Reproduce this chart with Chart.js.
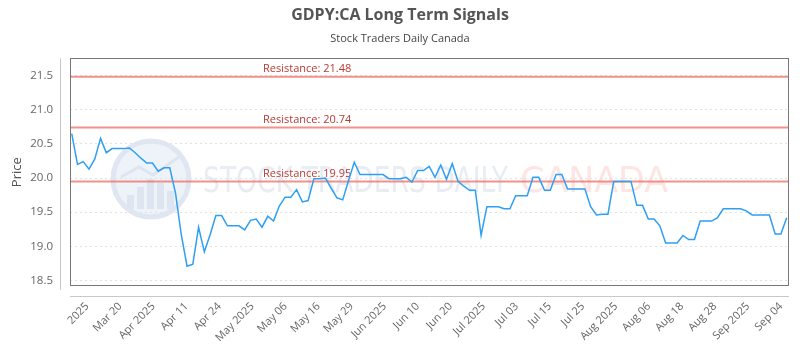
<!DOCTYPE html>
<html><head><meta charset="utf-8">
<script src="https://cdn.jsdelivr.net/npm/chart.js@4"></script>
<style>html,body{margin:0;padding:0;background:#fff}</style>
</head><body>
<canvas id="c" width="800" height="350"></canvas>
<script>
const titleText = 'GDPY:CA Long Term Signals';
const subtitleText = 'Stock Traders Daily Canada';
const yAxisTitle = 'Price';

const prices = [
  20.65, 20.20, 20.24, 20.13, 20.28, 20.58, 20.37, 20.43, 20.43, 20.43, 20.44, 20.37, 20.29, 20.22, 20.22, 20.10, 20.15, 20.15, 19.78, 19.17, 18.71, 18.74, 19.28, 18.92, 19.17, 19.45,
  19.45, 19.30, 19.30, 19.30, 19.24, 19.38, 19.40, 19.28, 19.44, 19.37, 19.59, 19.72, 19.72, 19.83, 19.65, 19.67, 19.99, 19.99, 20.00, 19.85, 19.71, 19.68, 19.96, 20.23, 20.05,
  20.05, 20.05, 20.05, 20.05, 19.99, 19.99, 19.99, 20.01, 19.94, 20.11, 20.11, 20.17, 20.01, 20.19, 19.98, 20.21, 19.95, 19.88, 19.82, 19.82, 19.16, 19.58, 19.58, 19.58, 19.55,
  19.55, 19.74, 19.74, 19.74, 20.01, 20.01, 19.82, 19.82, 20.05, 20.05, 19.84, 19.84, 19.84, 19.84, 19.58, 19.46, 19.47, 19.47, 19.95, 19.95, 19.95, 19.95, 19.60, 19.60, 19.40, 19.40,
  19.30, 19.05, 19.05, 19.05, 19.16, 19.10, 19.10, 19.37, 19.37, 19.37, 19.42, 19.55, 19.55, 19.55, 19.55, 19.52, 19.46, 19.46, 19.46, 19.46, 19.18, 19.18, 19.42
];
const resistances = [21.48, 20.74, 19.95];
const xTickLabels = ['2025','Mar 20','Apr 2025','Apr 11','Apr 24','May 2025','May 06','May 16','May 29','Jun 2025','Jun 10','Jun 20','Jul 2025','Jul 03','Jul 15','Jul 25','Aug 2025','Aug 06','Aug 18','Aug 28','Sep 2025','Sep 04'];
const yTicks = [18.5, 19.0, 19.5, 20.0, 20.5, 21.0, 21.5];

// tick placement along the trading-day index
const X_TICK_START = 2.7;
const X_TICK_STEP = 5.73;

const FONT = '"Open Sans", "DejaVu Sans", sans-serif';

const watermark = {
  id: 'watermark',
  beforeDraw(chart) {
    const {ctx} = chart;
    ctx.save();
    const cx = 151, cy = 179, r = 38;
    ctx.beginPath(); ctx.arc(cx, cy, r, 0, Math.PI * 2);
    ctx.fillStyle = 'rgba(236,241,248,0.9)'; ctx.fill();
    ctx.lineWidth = 5; ctx.strokeStyle = 'rgba(222,230,241,0.95)'; ctx.stroke();
    ctx.fillStyle = 'rgba(218,227,239,0.9)';
    const bars = [[-24, 14], [-14, 22], [-4, 30], [6, 26], [16, 18]];
    bars.forEach(([dx, h]) => ctx.fillRect(cx + dx, cy + 30 - h, 7, h));
    ctx.beginPath();
    ctx.moveTo(cx - 30, cy - 2); ctx.lineTo(cx - 12, cy - 12); ctx.lineTo(cx + 2, cy - 4); ctx.lineTo(cx + 28, cy - 22);
    ctx.lineWidth = 3; ctx.strokeStyle = 'rgba(218,227,239,0.9)'; ctx.stroke();

    ctx.textBaseline = 'alphabetic';
    ctx.font = '36px "DejaVu Sans", sans-serif';
    const drawFit = (txt, x0, x1, color) => {
      const w = ctx.measureText(txt).width;
      ctx.save();
      ctx.translate(x0, 192);
      ctx.scale((x1 - x0) / w, 1);
      ctx.fillStyle = color;
      ctx.fillText(txt, 0, 0);
      ctx.restore();
    };
    drawFit('STOCK TRADERS DAILY', 203, 508, 'rgba(226,232,241,0.8)');
    drawFit('CANADA', 520, 668, 'rgba(250,212,209,0.6)');
    ctx.restore();
  }
};

const frame = {
  id: 'frame',
  afterDraw(chart) {
    const {ctx, chartArea: a} = chart;
    ctx.save();
    ctx.lineWidth = 1;
    ctx.strokeStyle = '#c8c8c8';
    ctx.beginPath();
    ctx.moveTo(a.left - 9.5, a.top); ctx.lineTo(a.left - 9.5, a.bottom + 4);
    ctx.moveTo(a.left, a.bottom + 10.5); ctx.lineTo(a.right, a.bottom + 10.5);
    ctx.stroke();
    ctx.strokeStyle = '#777';
    ctx.strokeRect(Math.round(a.left) + 0.5, Math.round(a.top) + 0.5, Math.round(a.right - a.left) - 1, Math.round(a.bottom - a.top) - 1);
    ctx.restore();
  }
};

const resistancePlugin = {
  id: 'resistance',
  beforeDatasetsDraw(chart) {
    const {ctx, chartArea: a, scales} = chart;
    ctx.save();
    resistances.forEach(v => {
      const y = scales.y.getPixelForValue(v);
      ctx.beginPath();
      ctx.moveTo(a.left, y); ctx.lineTo(a.right, y);
      ctx.lineWidth = 2; ctx.strokeStyle = 'rgba(236,110,100,0.75)';
      ctx.stroke();
      ctx.font = '11px ' + FONT;
      ctx.fillStyle = '#b83a32';
      ctx.textBaseline = 'bottom';
      ctx.textAlign = 'left';
      ctx.fillText('Resistance: ' + v.toFixed(2), 263, y - 2);
    });
    ctx.restore();
  }
};

new Chart(document.getElementById('c'), {
  type: 'line',
  data: {
    datasets: [{
      data: prices.map((v, i) => ({x: i, y: v})),
      borderColor: '#2f9ff2',
      borderWidth: 1.5,
      pointRadius: 0,
      tension: 0,
      fill: false
    }]
  },
  options: {
    responsive: false,
    animation: false,
    layout: {padding: 0},
    plugins: {
      legend: {display: false},
      tooltip: {enabled: false},
      title: {display: true, text: titleText, color: '#555', font: {family: FONT, size: 16, weight: 'bold'}, padding: {top: 6, bottom: 4}},
      subtitle: {display: true, text: subtitleText, color: '#444', font: {family: FONT, size: 11}, padding: {top: 3, bottom: 13}}
    },
    scales: {
      x: {
        type: 'linear',
        min: -0.3,
        max: 124.4,
        afterBuildTicks: s => { s.ticks = xTickLabels.map((_, i) => ({value: X_TICK_START + i * X_TICK_STEP})); },
        afterFit: s => { s.height = 64; s.paddingLeft = 0; s.paddingRight = 11; },
        ticks: {autoSkip: false, maxRotation: 45, minRotation: 45, padding: 4, color: '#666', font: {family: FONT, size: 11},
          callback: (v, i) => xTickLabels[i]},
        grid: {display: false, drawTicks: true, tickLength: 10},
        border: {display: false}
      },
      y: {
        type: 'linear',
        min: 18.42,
        max: 21.75,
        afterBuildTicks: s => { s.ticks = yTicks.map(v => ({value: v})); },
        afterFit: s => { s.width = 70; },
        ticks: {padding: 7, color: '#666', font: {family: FONT, size: 11.5}, callback: v => Number(v).toFixed(1)},
        grid: {color: '#e2e2e2', drawTicks: true, tickLength: 10, tickColor: 'rgba(0,0,0,0)'},
        border: {display: false, dash: [2, 3]},
        title: {display: true, text: yAxisTitle, color: '#555', font: {family: FONT, size: 13}, padding: {top: 9, bottom: 0}}
      }
    }
  },
  plugins: [watermark, resistancePlugin, frame]
});
</script>
</body></html>
